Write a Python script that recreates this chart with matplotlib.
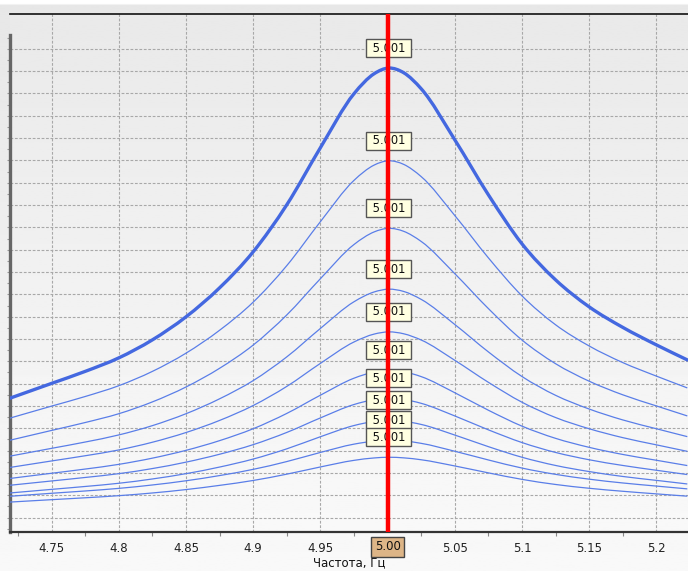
import numpy as np
import matplotlib
matplotlib.use('Agg')
import matplotlib.pyplot as plt
from matplotlib.path import Path
from matplotlib.patches import PathPatch

# ---- data (amplitude in arbitrary units) ----
freq = [4.719, 4.75, 4.775, 4.8, 4.825, 4.85, 4.875, 4.9, 4.925, 4.95, 4.975, 4.99,
        5.001, 5.012, 5.025, 5.05, 5.075, 5.1, 5.125, 5.15, 5.175, 5.2, 5.223]

amp_1 = [133.7, 148.5, 160.5, 174.0, 192.0, 215.0, 244.0, 280.0, 327.0, 384.0, 438.0, 458.0,
         463.7, 459.0, 443.0, 392.0, 337.0, 288.0, 252.0, 225.0, 204.5, 187.0, 172.0]
amp_2 = [113.8, 125.8, 135.4, 146.2, 160.5, 178.7, 201.6, 229.7, 266.2, 310.1, 351.4, 366.7,
         371.0, 367.4, 355.2, 316.3, 274.0, 236.0, 207.1, 185.9, 169.3, 155.8, 144.0]
amp_3 = [91.7, 101.5, 109.4, 118.2, 130.0, 144.9, 163.6, 186.8, 216.9, 253.1, 287.3, 299.9,
         303.5, 300.5, 290.4, 258.2, 223.3, 191.9, 168.2, 150.7, 137.1, 126.0, 116.0]
amp_4 = [75.8, 83.6, 89.9, 97.0, 106.3, 118.2, 133.1, 151.3, 175.0, 203.4, 230.1, 239.9,
         242.7, 240.4, 232.5, 207.4, 180.0, 155.4, 136.6, 122.9, 112.0, 103.2, 95.3]
amp_5 = [64.5, 71.0, 76.2, 82.0, 89.7, 99.4, 111.5, 126.4, 145.5, 168.5, 189.9, 197.8,
         200.0, 198.1, 191.9, 171.6, 149.6, 129.7, 114.4, 103.2, 94.3, 87.1, 80.6]
amp_6 = [53.5, 58.7, 62.9, 67.6, 73.8, 81.6, 91.3, 103.2, 118.5, 136.7, 153.7, 159.9,
         161.7, 160.2, 155.3, 139.2, 121.7, 105.8, 93.6, 84.6, 77.5, 71.7, 66.4]
amp_7 = [46.7, 51.0, 54.5, 58.3, 63.4, 69.8, 77.7, 87.3, 99.5, 114.0, 127.4, 132.3,
         133.7, 132.5, 128.6, 116.0, 102.1, 89.4, 79.5, 72.2, 66.5, 61.7, 57.4]
amp_8 = [39.0, 42.6, 45.5, 48.7, 53.0, 58.3, 64.9, 72.9, 83.1, 95.2, 106.4, 110.5,
         111.7, 110.7, 107.5, 96.9, 85.3, 74.7, 66.5, 60.4, 55.5, 51.6, 48.0]
amp_9 = [35.7, 38.7, 41.0, 43.6, 47.0, 51.2, 56.4, 62.6, 70.4, 79.5, 87.8, 90.8,
         91.7, 91.0, 88.6, 80.7, 72.0, 63.9, 57.6, 52.8, 49.0, 45.9, 43.1]
amp_10 = [29.9, 32.3, 34.2, 36.3, 39.0, 42.4, 46.6, 51.5, 57.8, 65.0, 71.6, 74.0,
          74.7, 74.1, 72.2, 66.0, 59.1, 52.6, 47.5, 43.7, 40.7, 38.1, 35.8]

series = [amp_1, amp_2, amp_3, amp_4, amp_5, amp_6, amp_7, amp_8, amp_9, amp_10]
peak_freq = 5.001
peak_labels = ['5.001'] * 10
marker_freq = 5.0
marker_label = '5.00'
xticks = [4.75, 4.8, 4.85, 4.9, 4.95, 5.0, 5.05, 5.1, 5.15, 5.2]
xticklabels = ['4.75', '4.8', '4.85', '4.9', '4.95', '', '5.05', '5.1', '5.15', '5.2']
xlabel = 'Частота, Гц'


def smooth_path(x, y):
    """Smooth (cubic Hermite / Bezier) line through the given points."""
    x = np.asarray(x, float)
    y = np.asarray(y, float)
    n = len(x)
    m = np.empty(n)
    m[0] = (y[1] - y[0]) / (x[1] - x[0])
    m[-1] = (y[-1] - y[-2]) / (x[-1] - x[-2])
    for i in range(1, n - 1):
        h0 = x[i] - x[i - 1]
        h1 = x[i + 1] - x[i]
        d0 = (y[i] - y[i - 1]) / h0
        d1 = (y[i + 1] - y[i]) / h1
        m[i] = (h1 * d0 + h0 * d1) / (h0 + h1)
    verts = [(x[0], y[0])]
    codes = [Path.MOVETO]
    for i in range(n - 1):
        h = x[i + 1] - x[i]
        verts += [(x[i] + h / 3, y[i] + m[i] * h / 3),
                  (x[i + 1] - h / 3, y[i + 1] - m[i + 1] * h / 3),
                  (x[i + 1], y[i + 1])]
        codes += [Path.CURVE4] * 3
    return Path(verts, codes)


# ---- figure ----
W, H = 688, 571
fig = plt.figure(figsize=(W / 100, H / 100), dpi=100)
plt.rcParams['font.family'] = ['DejaVu Sans']

# figure background gradient (top darker)
bg = fig.add_axes([0, 0, 1, 1], zorder=-5)
grad = np.linspace(0.905, 0.975, 256).reshape(-1, 1)
grad[:2] = 1.0
bg.imshow(grad, aspect='auto', cmap='gray', vmin=0, vmax=1, extent=[0, 1, 0, 1])
bg.axis('off')

XMIN, XMAX = 4.7191, 5.2220
YMIN, YMAX = 0, 517.7
x0, x1 = 10, 688
ytop, ybot = 14, 532
ax = fig.add_axes([x0 / W, (H - ybot) / H, (x1 - x0 + 2) / W, (ybot - ytop) / H])
ax.patch.set_alpha(0)

# axes background gradient: darker at top, lighter at bottom
agrad = np.linspace(0.915, 0.975, 256).reshape(-1, 1)
ax.imshow(agrad, aspect='auto', cmap='gray', vmin=0, vmax=1,
          extent=[XMIN, XMAX + 0.01, YMIN, YMAX], zorder=0)
ax.set_xlim(XMIN, XMAX + 2 * (XMAX - XMIN) / 678)
ax.set_ylim(YMIN, YMAX)

# grid / ticks
ygrid = np.arange(14.4, 500, 22.31)
yminor = np.arange(14.4 - 11.155, 496, 11.155)
ax.set_yticks(ygrid)
ax.set_yticks(yminor, minor=True)
ax.set_yticklabels([])
ax.set_xticks(xticks)
ax.set_xticklabels(xticklabels)
ax.set_xticks(np.arange(4.725, 5.23, 0.05), minor=True)
ax.grid(True, which='major', color='#a8a8a8', lw=0.8, ls=(0, (2.5, 1.5)), zorder=1)

ax.tick_params(axis='x', which='major', length=0, pad=7.5, labelsize=8.5, colors='#222222')
ax.tick_params(axis='x', which='minor', length=3, width=0.8, color='#888888')
ax.tick_params(axis='y', which='both', length=2.5, width=0.8, color='#999999')

# spines
ax.spines['right'].set_visible(False)
ax.spines['top'].set_color('#111111')
ax.spines['top'].set_linewidth(1.2)
ax.spines['bottom'].set_color('#333333')
ax.spines['bottom'].set_linewidth(1.6)
ax.spines['left'].set_color('#666666')
ax.spines['left'].set_linewidth(2.4)
ax.spines['left'].set_bounds(0, 496.7)

# curves
for i, amp in enumerate(series):
    if i == 0:
        patch = PathPatch(smooth_path(freq, amp), fill=False, edgecolor='#4468e0',
                          lw=2.4, zorder=5, capstyle='round', joinstyle='round')
    else:
        patch = PathPatch(smooth_path(freq, amp), fill=False, edgecolor='#5a7ee8',
                          lw=0.9, zorder=4)
    ax.add_patch(patch)

# peak labels
for i, amp in enumerate(series):
    pk = max(amp)
    ax.annotate(' ' + peak_labels[i] + ' ', xy=(peak_freq, pk), xytext=(0, 20),
                textcoords='offset pixels', ha='center', va='center', fontsize=8.3,
                color='#111111', zorder=8,
                bbox=dict(boxstyle='square,pad=0.22', fc='#ffffe1', ec='#555555', lw=1.0))

# marker line
ax.axvline(marker_freq, color='#ff0000', lw=3.2, zorder=10)
ax.annotate(marker_label, xy=(marker_freq, 0), xycoords=('data', 'axes fraction'),
            xytext=(0, -15), textcoords='offset pixels', ha='center', va='center',
            fontsize=8.5, color='#111111', annotation_clip=False, zorder=11,
            bbox=dict(boxstyle='square,pad=0.3', fc='#ddb587', ec='#444444', lw=1.0))

ax.set_xlabel(xlabel, fontsize=8.5, labelpad=1.5, color='#111111')
ax.xaxis.set_label_coords((349 - x0) / (x1 - x0 + 2), -0.047)

fig.savefig('out.png', dpi=100)
